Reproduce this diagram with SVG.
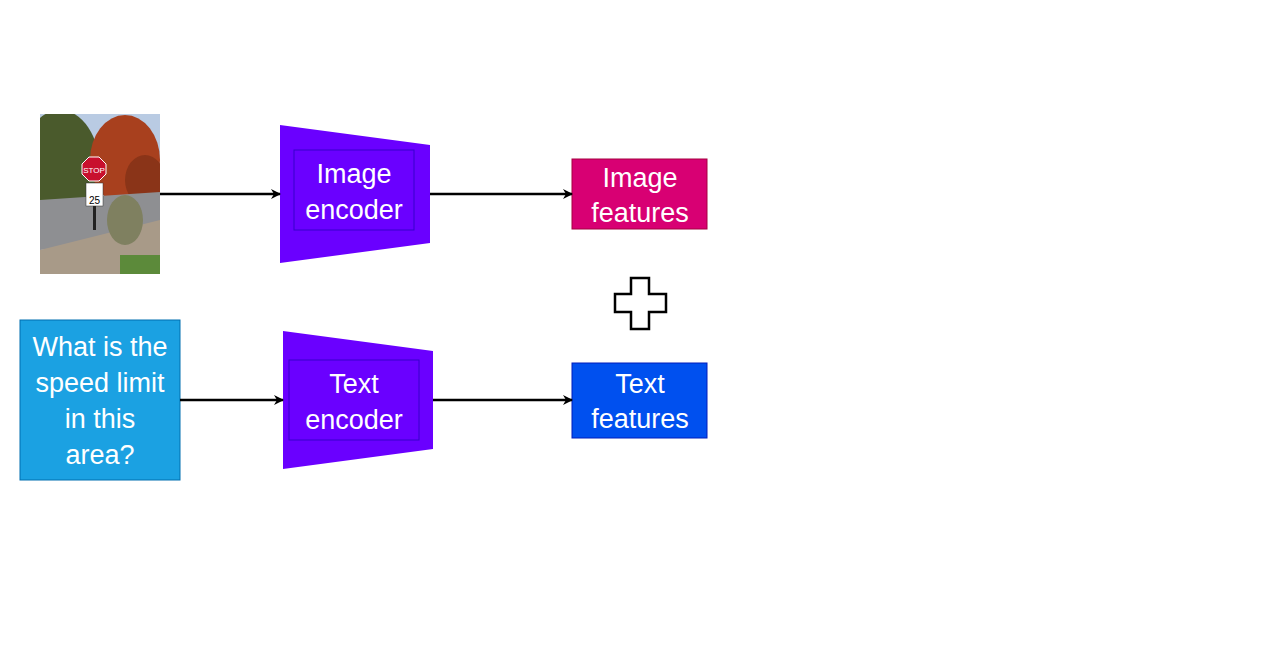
<svg xmlns="http://www.w3.org/2000/svg" width="1280" height="650" viewBox="0 0 1280 650">
<defs>
<marker id="ah" markerWidth="10" markerHeight="10" refX="9" refY="5" orient="auto" markerUnits="userSpaceOnUse"><path d="M0,0 L10,5 L0,10 L3,5 Z" fill="#000"/></marker>
<clipPath id="pc"><rect x="40" y="114" width="120" height="160"/></clipPath>
</defs>
<style>
.t{font-family:"Liberation Sans",Arial,sans-serif;font-size:27px;fill:#fff;text-anchor:middle}
.c{stroke:#000;stroke-width:2.5;fill:none;marker-end:url(#ah)}
</style>
<rect width="1280" height="650" fill="#fff"/>
<g id="photo" clip-path="url(#pc)">
<rect x="40" y="114" width="120" height="160" fill="#b9cbe3"/>
<ellipse cx="60" cy="170" rx="40" ry="60" fill="#4a5a2c"/>
<ellipse cx="125" cy="160" rx="35" ry="45" fill="#a8401e"/>
<ellipse cx="145" cy="180" rx="20" ry="25" fill="#8a3418"/>
<polygon points="40,200 160,192 160,235 40,250" fill="#8e8f92"/>
<polygon points="40,250 160,220 160,274 40,274" fill="#a89a88"/>
<rect x="120" y="255" width="40" height="19" fill="#5c8a3a"/>
<ellipse cx="125" cy="220" rx="18" ry="25" fill="#7f8060"/>
<rect x="93" y="185" width="3" height="45" fill="#222"/>
<polygon points="89,157 99,157 106,164 106,174 99,181 89,181 82,174 82,164" fill="#c8102e" stroke="#fff"/>
<text x="94" y="173" font-family="Liberation Sans,Arial,sans-serif" font-size="8" fill="#fff" text-anchor="middle">STOP</text>
<rect x="86" y="183" width="17" height="23" fill="#fff" stroke="#333" stroke-width="0.5"/>
<text x="94.5" y="204" font-family="Liberation Sans,Arial,sans-serif" font-size="10" fill="#000" text-anchor="middle">25</text>
</g>
<g id="image-encoder">
<polygon points="280,125 430,145 430,243 280,263" fill="#6a00ff"/>
<rect x="294" y="150" width="120" height="80" fill="none" stroke="#3700cc"/>
<text class="t" x="354" y="183">Image</text><text class="t" x="354" y="219">encoder</text>
</g>
<g id="image-features">
<rect x="572" y="159" width="135" height="70" fill="#d80073" stroke="#a50040"/>
<text class="t" x="640" y="187">Image</text><text class="t" x="640" y="222">features</text>
</g>
<g id="plus">
<path d="M631,278 h18 v16 h17 v18 h-17 v17 h-18 v-17 h-16 v-18 h16 Z" fill="#fff" stroke="#000" stroke-width="2.5"/>
</g>
<g id="question">
<rect x="20" y="320" width="160" height="160" fill="#1ba1e2" stroke="#006eaf"/>
<text class="t" x="100" y="356">What is the</text><text class="t" x="100" y="392">speed limit</text><text class="t" x="100" y="428">in this</text><text class="t" x="100" y="464">area?</text>
</g>
<g id="text-encoder">
<polygon points="283,331 433,351 433,449 283,469" fill="#6a00ff"/>
<rect x="289" y="360" width="130" height="80" fill="none" stroke="#3700cc"/>
<text class="t" x="354" y="393">Text</text><text class="t" x="354" y="429">encoder</text>
</g>
<g id="text-features">
<rect x="572" y="363" width="135" height="75" fill="#0050ef" stroke="#001dbc"/>
<text class="t" x="640" y="393">Text</text><text class="t" x="640" y="428">features</text>
</g>
<g id="connectors">
<line class="c" x1="160" y1="194" x2="280" y2="194"/>
<line class="c" x1="430" y1="194" x2="572" y2="194"/>
<line class="c" x1="180" y1="400" x2="283" y2="400"/>
<line class="c" x1="433" y1="400" x2="572" y2="400"/>
</g>
</svg>
